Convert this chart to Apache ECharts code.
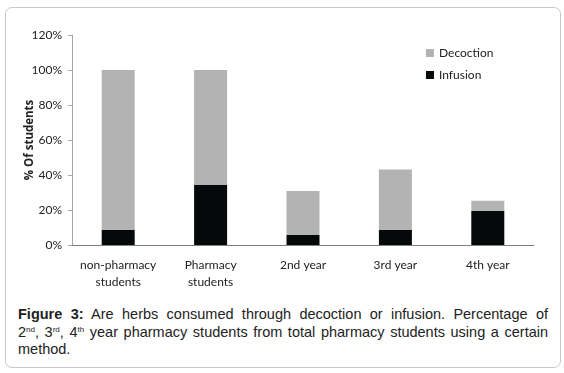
<!DOCTYPE html>
<html>
<head>
<meta charset="utf-8">
<script src="https://cdn.jsdelivr.net/npm/echarts@6/dist/echarts.min.js"></script>
<style>
  html, body { margin: 0; padding: 0; background: #fff; }
  #wrap { position: relative; width: 564px; height: 373px; overflow: hidden; }
  #frame {
    position: absolute; left: 5px; top: 7px; width: 556px; height: 361px;
    border: 1px solid #c8c8c8; border-radius: 7px; box-sizing: border-box;
  }
  #chart { position: absolute; left: 0; top: 0; width: 564px; height: 300px; }
  #caption {
    position: absolute; left: 18px; top: 306px; width: 530px;
    font-family: Arial, 'Liberation Sans', sans-serif; font-size: 14.5px;
    line-height: 17.5px; color: #222;
  }
  #caption .j { text-align: justify; text-align-last: justify; white-space: nowrap; }
  #caption sup { font-size: 8px; line-height: 0; vertical-align: 5px; }
</style>
</head>
<body>
<div id="wrap">
  <div id="frame"></div>
  <div id="chart"></div>
  <div id="caption">
    <div class="j"><b>Figure 3:</b> Are herbs consumed through decoction or infusion. Percentage of</div>
    <div class="j">2<sup>nd</sup>, 3<sup>rd</sup>, 4<sup>th</sup> year pharmacy students from total pharmacy students using a certain</div>
    <div>method.</div>
  </div>
</div>
<script>
const categories = ['non-pharmacy\nstudents', 'Pharmacy\nstudents', '2nd year', '3rd year', '4th year']
const infusion = [8.6, 34.3, 5.7, 8.6, 19.4]
const decoction = [91.4, 65.7, 25.2, 34.6, 5.9]
const yTicks = [0, 20, 40, 60, 80, 100, 120]

const font = "Lato, 'Open Sans', sans-serif"
const chart = echarts.init(document.getElementById('chart'))

chart.setOption({
  animation: false,
  textStyle: { fontFamily: font },
  grid: { left: 72, right: 30, top: 35, bottom: 55 },
  legend: {
    orient: 'vertical',
    left: 421,
    top: 42,
    itemWidth: 8,
    itemHeight: 8,
    itemGap: 10,
    icon: 'rect',
    data: ['Decoction', 'Infusion'],
    textStyle: { fontFamily: font, fontSize: 12, color: '#222' }
  },
  xAxis: {
    type: 'category',
    data: categories,
    axisLine: { lineStyle: { color: '#7f7f7f', width: 1 } },
    axisTick: { show: false },
    axisLabel: { color: '#222', fontSize: 12, margin: 12, lineHeight: 17, interval: 0 }
  },
  yAxis: {
    type: 'value',
    min: yTicks[0],
    max: yTicks[yTicks.length - 1],
    interval: 20,
    name: '% Of students',
    nameLocation: 'middle',
    nameGap: 36,
    nameMoveOverlap: false,
    nameTextStyle: { fontFamily: "'Open Sans', sans-serif", fontWeight: 'bold', fontSize: 11.5, color: '#222' },
    axisLine: { show: true, lineStyle: { color: '#a6a6a6' } },
    axisTick: { show: true, length: 4, lineStyle: { color: '#a6a6a6' } },
    splitLine: { show: false },
    axisLabel: { color: '#222', fontSize: 12, margin: 10, formatter: v => v + '%' }
  },
  series: [
    {
      name: 'Infusion',
      type: 'bar',
      stack: 'total',
      barWidth: 33,
      data: infusion,
      itemStyle: { color: '#050909' }
    },
    {
      name: 'Decoction',
      type: 'bar',
      stack: 'total',
      barWidth: 33,
      data: decoction,
      itemStyle: { color: '#b2b3b2' }
    }
  ]
})
</script>
</body>
</html>
